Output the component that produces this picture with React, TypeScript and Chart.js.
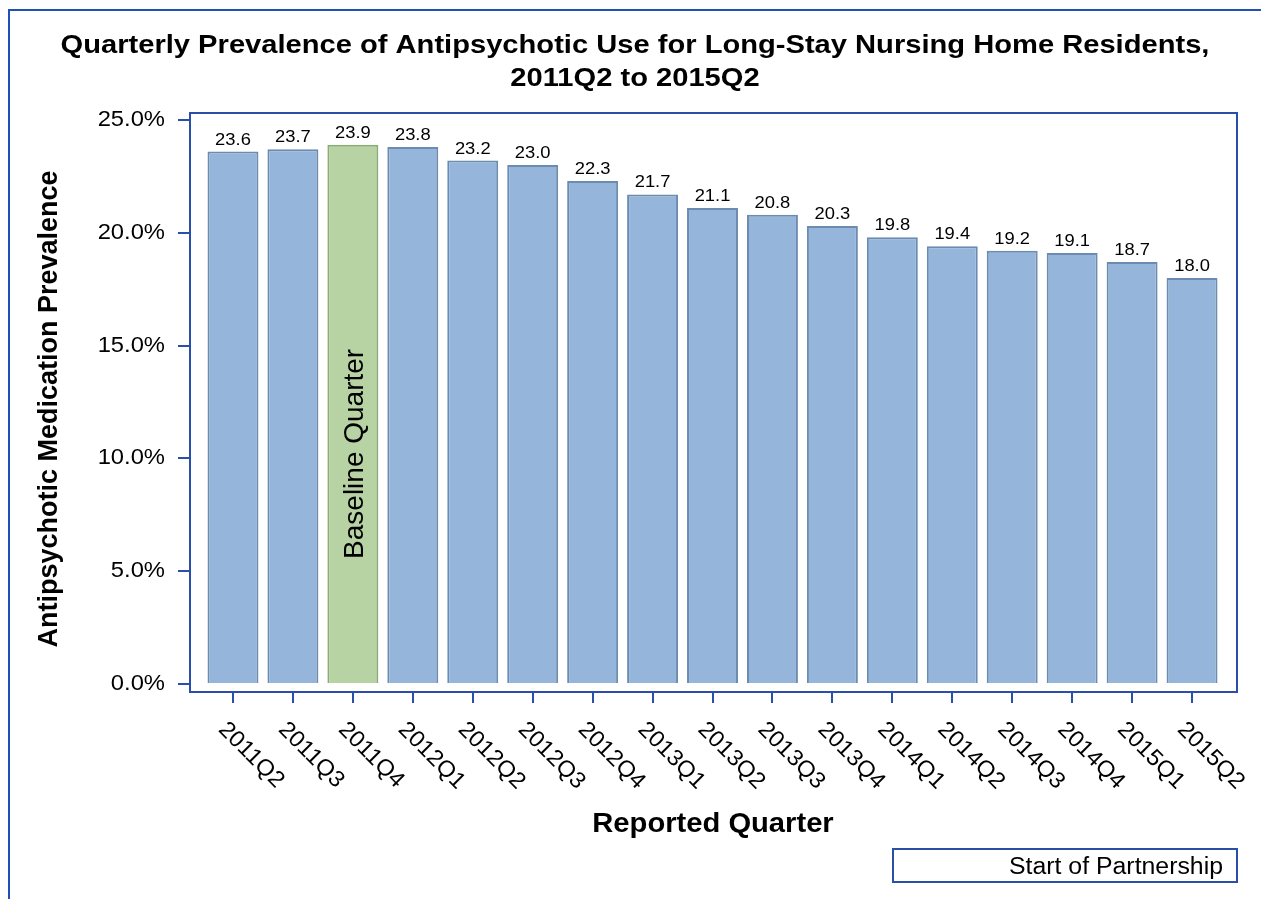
import React, { useEffect, useRef } from "react";
import { Chart, registerables } from "chart.js";

Chart.register(...registerables);

const quarters = [
  "2011Q2", "2011Q3", "2011Q4", "2012Q1", "2012Q2", "2012Q3", "2012Q4", "2013Q1", "2013Q2",
  "2013Q3", "2013Q4", "2014Q1", "2014Q2", "2014Q3", "2014Q4", "2015Q1", "2015Q2",
];
const prevalence = [23.6, 23.7, 23.9, 23.8, 23.2, 23.0, 22.3, 21.7, 21.1, 20.8, 20.3, 19.8, 19.4, 19.2, 19.1, 18.7, 18.0];
const yTicks = [0, 5, 10, 15, 20, 25];
const baselineQuarter = "2011Q4";
const titleLines = [
  "Quarterly Prevalence of Antipsychotic Use for Long-Stay Nursing Home Residents,",
  "2011Q2 to 2015Q2",
];
const xTitle = "Reported Quarter";
const yTitle = "Antipsychotic Medication Prevalence";
const legendText = "Start of Partnership";
const baselineNote = "Baseline Quarter";

const FONT = '"Liberation Sans", Arial, sans-serif';
const SX = 1.08;
const BLUE_FILL = "#95b5da";
const BLUE_EDGE = "#6b8bb0";
const GREEN_FILL = "#b8d3a3";
const GREEN_EDGE = "#8aaa76";
const FRAME = "#2a4fa8";
const OUTER = "#1f50b6";

function drawText(
  ctx: CanvasRenderingContext2D,
  s: string,
  x: number,
  y: number,
  font: string,
  align: CanvasTextAlign,
  baseline: CanvasTextBaseline,
  rot = 0,
  sx = SX
) {
  ctx.save();
  ctx.font = font;
  ctx.textAlign = align;
  ctx.textBaseline = baseline;
  ctx.fillStyle = "#000";
  ctx.translate(x, y);
  if (rot) ctx.rotate(rot);
  ctx.scale(sx, 1);
  ctx.fillText(s, 0, 0);
  ctx.restore();
}

const decorPlugin = {
  id: "decor",
  afterDraw(chart: any) {
    const ctx: CanvasRenderingContext2D = chart.ctx;
    const area = chart.chartArea;
    const xs = chart.scales.x;
    const ys = chart.scales.y;

    // outer border
    ctx.save();
    ctx.strokeStyle = OUTER;
    ctx.lineWidth = 2;
    ctx.beginPath();
    ctx.moveTo(9, 900);
    ctx.lineTo(9, 10);
    ctx.lineTo(1262, 10);
    ctx.stroke();
    // plot frame
    ctx.strokeStyle = FRAME;
    ctx.lineWidth = 2;
    ctx.strokeRect(area.left, area.top, area.right - area.left, area.bottom - area.top);
    ctx.restore();

    // title
    drawText(ctx, titleLines[0], 635, 53, `bold 26px ${FONT}`, "center", "alphabetic", 0, 1.12);
    drawText(ctx, titleLines[1], 635, 86, `bold 26px ${FONT}`, "center", "alphabetic", 0, 1.12);

    // y tick labels
    yTicks.forEach((v) => {
      drawText(ctx, v.toFixed(1) + "%", area.left - 25, ys.getPixelForValue(v), `22px ${FONT}`, "right", "middle");
    });

    // x tick labels (rotated clockwise 45deg)
    quarters.forEach((q, i) => {
      const px = xs.getPixelForValue(i);
      drawText(ctx, q, px - 11, area.bottom + 34, `23px ${FONT}`, "left", "middle", Math.PI / 4, 1.03);
    });

    // axis titles
    drawText(ctx, xTitle, 713, 832, `bold 27px ${FONT}`, "center", "alphabetic");
    drawText(ctx, yTitle, 57, 409, `bold 27px ${FONT}`, "center", "alphabetic", -Math.PI / 2, 1);

    // bar value labels
    const meta = chart.getDatasetMeta(0);
    meta.data.forEach((el: any, i: number) => {
      drawText(ctx, prevalence[i].toFixed(1), el.x, el.y - 7, `17px ${FONT}`, "center", "alphabetic");
    });

    // baseline note
    const bi = quarters.indexOf(baselineQuarter);
    if (bi >= 0) {
      const el = meta.data[bi];
      drawText(ctx, baselineNote, el.x + 10, ys.getPixelForValue(10.2), `28px ${FONT}`, "center", "alphabetic", -Math.PI / 2, 1);
    }

    // legend box
    ctx.save();
    ctx.strokeStyle = FRAME;
    ctx.lineWidth = 2;
    ctx.strokeRect(893, 849, 344, 33);
    ctx.restore();
    drawText(ctx, legendText, 1223, 874, `23px ${FONT}`, "right", "alphabetic");
  },
};

export default function App() {
  const ref = useRef<HTMLCanvasElement | null>(null);

  useEffect(() => {
    if (!ref.current) return;
    const fills = quarters.map((q) => (q === baselineQuarter ? GREEN_FILL : BLUE_FILL));
    const edges = quarters.map((q) => (q === baselineQuarter ? GREEN_EDGE : BLUE_EDGE));
    const chart = new Chart(ref.current, {
      type: "bar",
      data: {
        datasets: [
          {
            data: quarters.map((_, i) => ({ x: i, y: prevalence[i] })),
            backgroundColor: fills,
            borderColor: edges,
            borderWidth: 2,
            barPercentage: 0.85,
            categoryPercentage: 1,
          },
        ],
      },
      options: {
        animation: false,
        responsive: false,
        devicePixelRatio: 1,
        layout: { padding: { left: 0, top: 113, right: 24, bottom: 207 } },
        plugins: { legend: { display: false }, title: { display: false }, tooltip: { enabled: false } },
        scales: {
          x: {
            type: "linear",
            offset: false,
            min: -0.717,
            max: 16.75,
            afterBuildTicks: (s: any) => {
              s.ticks = quarters.map((_, i) => ({ value: i }));
            },
            afterFit: (s: any) => {
              s.height = 0;
            },
            ticks: { display: false },
            grid: { offset: false, drawOnChartArea: false, drawTicks: true, tickLength: 11, color: FRAME, lineWidth: 2 },
            border: { display: false },
          },
          y: {
            type: "linear",
            min: -0.355,
            max: 25.31,
            afterBuildTicks: (s: any) => {
              s.ticks = yTicks.map((v) => ({ value: v }));
            },
            afterFit: (s: any) => {
              s.width = 190;
            },
            ticks: { display: false },
            grid: { drawOnChartArea: false, drawTicks: true, tickLength: 12, color: FRAME, lineWidth: 2 },
            border: { display: false },
          },
        },
      },
      plugins: [decorPlugin],
    } as any);
    return () => chart.destroy();
  }, []);

  return (
    <div style={{ position: "fixed", left: 0, top: 0, width: 1261, height: 899, background: "#fff" }}>
      <canvas ref={ref} width={1261} height={899} />
    </div>
  );
}
